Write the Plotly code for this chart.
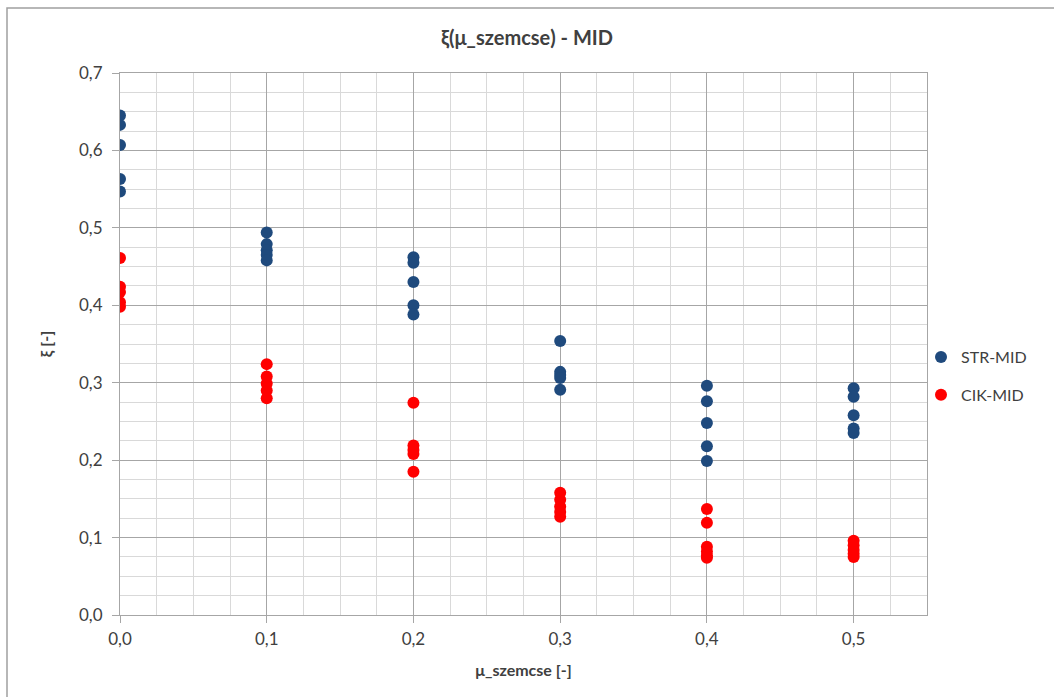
import plotly.graph_objects as go

# Data
mu_levels = [0.0, 0.1, 0.2, 0.3, 0.4, 0.5]

str_values = [
    [0.645, 0.633, 0.607, 0.563, 0.547],
    [0.494, 0.479, 0.471, 0.465, 0.458],
    [0.462, 0.455, 0.430, 0.400, 0.388],
    [0.354, 0.314, 0.310, 0.306, 0.291],
    [0.296, 0.276, 0.248, 0.218, 0.199],
    [0.293, 0.282, 0.258, 0.241, 0.235],
]
cik_values = [
    [0.461, 0.424, 0.417, 0.404, 0.398],
    [0.324, 0.308, 0.299, 0.290, 0.280],
    [0.274, 0.219, 0.213, 0.208, 0.185],
    [0.158, 0.149, 0.140, 0.133, 0.127],
    [0.137, 0.119, 0.088, 0.082, 0.077, 0.074],
    [0.096, 0.090, 0.084, 0.079, 0.075],
]

series_names = ["STR-MID", "CIK-MID"]
series_colors = ["#1F4A7D", "#FF0000"]

title_text = "ξ(μ_szemcse) - MID"
x_title = "μ_szemcse [-]"
y_title = "ξ [-]"

FONT = "Lato, 'Open Sans', sans-serif"
W, H = 1054, 697
L, R, T, B = 120, 127, 73, 82
pw, ph = W - L - R, H - T - B

fig = go.Figure()
for name, color, vals, grp in zip(series_names, series_colors, [str_values, cik_values], ["g1", "g2"]):
    xs, ys = [], []
    for mu, vs in zip(mu_levels, vals):
        for v in vs:
            xs.append(mu)
            ys.append(v)
    fig.add_trace(go.Scatter(
        x=xs, y=ys, mode="markers", name=name, legendgroup=grp,
        marker=dict(color=color, size=12, line=dict(width=0)),
    ))

axis_common = dict(
    showgrid=True, gridcolor="#A6A6A6", gridwidth=1,
    showline=True, linecolor="#A6A6A6", linewidth=1, mirror=True,
    ticks="outside", ticklen=7, tickcolor="#A6A6A6",
    zeroline=False,
    tickfont=dict(family=FONT, size=17, color="#404040"),
    tickformat=".1f",
)

fig.update_xaxes(
    range=[0, 0.55], dtick=0.1, tick0=0,
    minor=dict(dtick=0.025, showgrid=True, gridcolor="#D9D9D9", ticks=""),
    title=dict(text=x_title, font=dict(family=FONT, size=16, color="#404040", weight="bold"), standoff=16),
    ticklabelstandoff=2,
    **axis_common,
)
fig.update_yaxes(
    range=[0, 0.7], dtick=0.1, tick0=0,
    minor=dict(dtick=0.025, showgrid=True, gridcolor="#D9D9D9", ticks=""),
    title=dict(text=y_title, font=dict(family=FONT, size=16, color="#404040", weight="bold"), standoff=22),
    ticklabelstandoff=6,
    **axis_common,
)

fig.update_layout(
    width=W, height=H,
    margin=dict(l=L, r=R, t=T, b=B, autoexpand=False),
    paper_bgcolor="white", plot_bgcolor="white",
    separators=", ",
    title=dict(text=title_text, x=0.5, xanchor="center", y=1 - 38 / H, yanchor="middle",
               font=dict(family=FONT, size=20, color="#404040", weight="bold")),
    legend=dict(x=(921 - L) / pw, xanchor="left", y=(615 - 376) / ph, yanchor="middle",
                font=dict(family=FONT, size=16, color="#404040"),
                tracegroupgap=14, itemwidth=30, bgcolor="rgba(0,0,0,0)"),
    showlegend=True,
)

# Outer chart-area border (top and left edges visible in the reference)
fig.add_shape(type="rect", xref="paper", yref="paper",
              x0=(7 - L) / pw, x1=(W + 20 - L) / pw,
              y0=(615 - (H + 20)) / ph, y1=(615 - 8) / ph,
              line=dict(color="#A0A0A0", width=1.5), fillcolor="rgba(0,0,0,0)", layer="below")

fig.write_html("out.html")
